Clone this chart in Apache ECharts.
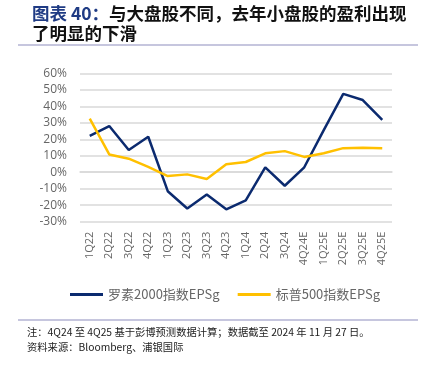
<!DOCTYPE html>
<html><head><meta charset="utf-8">
<script src="https://cdn.jsdelivr.net/npm/echarts@6/dist/echarts.min.js"></script>
<style>html,body{margin:0;padding:0;background:#fff}#c{width:426px;height:365px}</style>
</head><body><div id="c"></div>
<script>
const categories = ['1Q22','2Q22','3Q22','4Q22','1Q23','2Q23','3Q23','4Q23','1Q24','2Q24','3Q24','4Q24E','1Q25E','2Q25E','3Q25E','4Q25E'];
const russell2000 = [22, 28, 13.5, 21.5, -11.5, -22, -13.5, -22.5, -17, 3, -8.2, 3, 25.5, 47.5, 43.8, 31.7];
const sp500 = [32.5, 10.8, 8.2, 3.3, -2.3, -1.3, -4.1, 4.8, 6.2, 11.5, 12.8, 9.3, 11.5, 14.6, 14.9, 14.6];
const yTicks = {min: -30, max: 60, interval: 10};
const seriesNames = ['罗素2000指数EPSg', '标普500指数EPSg'];
const titleMain = '图表 40：';
const titleRest = '与大盘股不同，去年小盘股的盈利出现';
const titleLine2 = '了明显的下滑';
const note1 = '注：4Q24 至 4Q25 基于彭博预测数据计算；数据截至 2024 年 11 月 27 日。';
const note2 = '资料来源：Bloomberg、浦银国际';

const chart = echarts.init(document.getElementById('c'));
chart.setOption({
  animation: false,
  title: {
    text: '{a|' + titleMain + '}{b|' + titleRest + '}\n{b|' + titleLine2 + '}',
    left: 27, top: -2,
    textStyle: {
      rich: {
        a: {fontFamily: 'Noto Sans CJK SC', fontWeight: 'bold', fontSize: 17.5, color: '#1F3B84', lineHeight: 20},
        b: {fontFamily: 'Noto Sans CJK SC', fontWeight: 'bold', fontSize: 17.5, color: '#111', lineHeight: 20}
      }
    }
  },
  graphic: [
    {type: 'line', shape: {x1: 18, y1: 45, x2: 418, y2: 45}, style: {stroke: '#8E8EBE', lineWidth: 1.2}},
    {type: 'line', shape: {x1: 18, y1: 320, x2: 418, y2: 320}, style: {stroke: '#8E8EBE', lineWidth: 1.2}},
    {type: 'text', left: 27, top: 327, style: {text: note1, fontFamily: 'Noto Sans CJK SC', fontSize: 10.3, fill: '#222'}},
    {type: 'text', left: 27, top: 342, style: {text: note2, fontFamily: 'Noto Sans CJK SC', fontSize: 10.3, fill: '#222'}}
  ],
  legend: {
    data: seriesNames,
    top: 283, left: 65,
    itemWidth: 33, itemHeight: 3, itemGap: 18,
    icon: 'rect',
    textStyle: {fontFamily: 'Noto Sans CJK SC', fontSize: 13, color: '#666'}
  },
  grid: {left: 80, right: 34, top: 73.3, bottom: 143.3},
  xAxis: {
    type: 'category', data: categories, boundaryGap: true,
    axisLine: {show: true, lineStyle: {color: '#D9D9D9', width: 1.5}},
    axisTick: {show: false},
    axisLabel: {rotate: 90, interval: 0, color: '#666', fontFamily: 'Open Sans', fontSize: 11, margin: 10}
  },
  yAxis: {
    type: 'value', min: yTicks.min, max: yTicks.max, interval: yTicks.interval,
    axisLine: {show: false}, axisTick: {show: false},
    splitLine: {lineStyle: {color: '#D9D9D9', width: 1.5}},
    axisLabel: {formatter: '{value}%', color: '#666', fontFamily: 'Open Sans', fontSize: 12, margin: 13}
  },
  series: [
    {name: seriesNames[0], type: 'line', data: russell2000, symbol: 'none', lineStyle: {color: '#0B2A6F', width: 2.5}, itemStyle: {color: '#0B2A6F'}},
    {name: seriesNames[1], type: 'line', data: sp500, symbol: 'none', lineStyle: {color: '#FFC000', width: 2.5}, itemStyle: {color: '#FFC000'}}
  ]
});
</script></body></html>
